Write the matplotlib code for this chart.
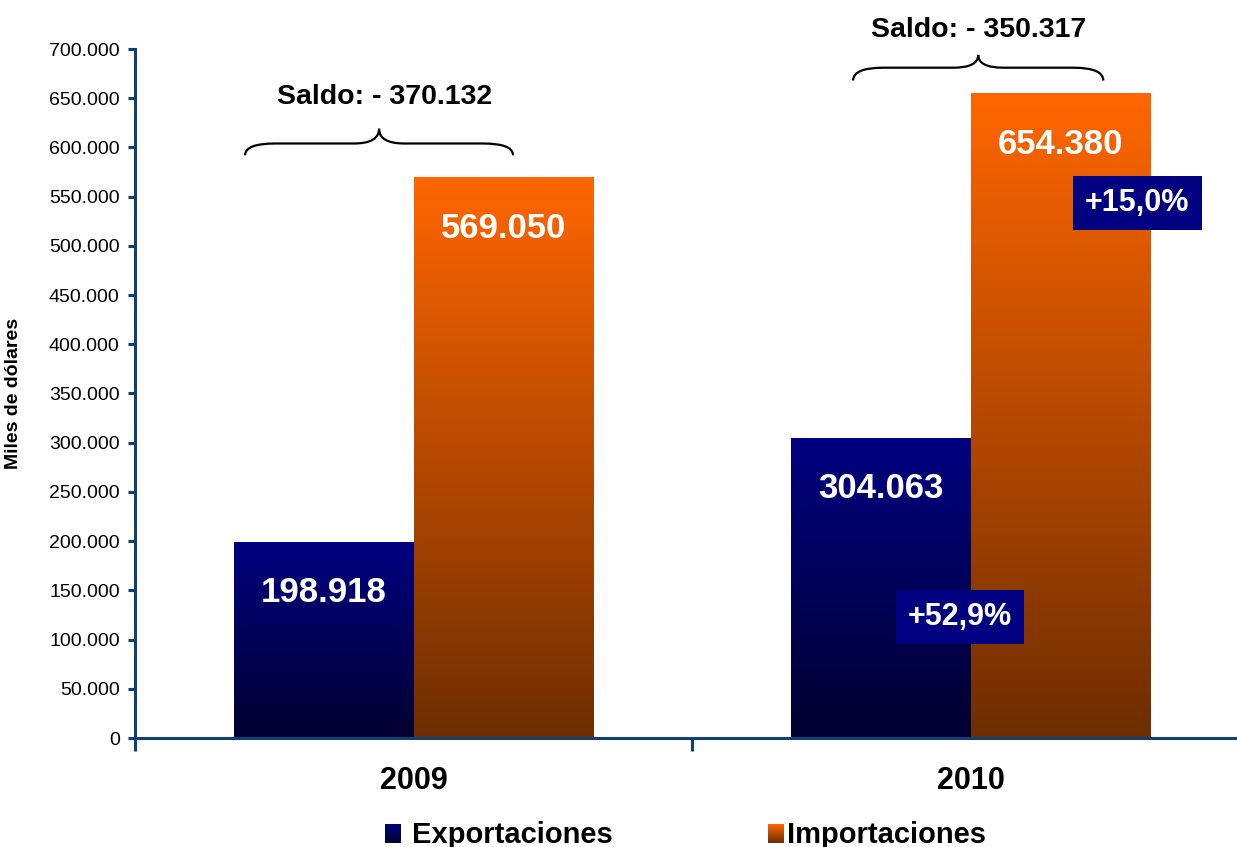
import numpy as np
import matplotlib
matplotlib.use('Agg')
import matplotlib.pyplot as plt
from matplotlib.colors import LinearSegmentedColormap
from matplotlib.path import Path
from matplotlib.patches import PathPatch
from matplotlib.ticker import FuncFormatter, FixedLocator

plt.rcParams['font.family'] = ['Liberation Sans', 'DejaVu Sans']

# data
years = ['2009', '2010']
exportaciones = [198918, 304063]
importaciones = [569050, 654380]
series_names = ['Exportaciones', 'Importaciones']


def fmt_miles(v):
    return '{:,.0f}'.format(v).replace(',', '.')


axis_col = '#10406f'
exp_cmap = LinearSegmentedColormap.from_list('exp', ['#000030', '#000080'])
imp_cmap = LinearSegmentedColormap.from_list('imp', ['#6e2d00', '#ff6600'])

fig = plt.figure(figsize=(12.37, 8.47), dpi=100)
ax = fig.add_axes([135 / 1237, 1 - 738 / 847, 1102 / 1237, 689 / 847])

w = 0.323
x = np.arange(len(years))
b_exp = ax.bar(x - w / 2, exportaciones, w, color='none', zorder=2)
b_imp = ax.bar(x + w / 2, importaciones, w, color='none', zorder=2)

grad = np.linspace(0, 1, 256).reshape(-1, 1)
for bars, cm in ((b_exp, exp_cmap), (b_imp, imp_cmap)):
    for r in bars:
        ax.imshow(grad, cmap=cm, origin='lower', aspect='auto', zorder=2,
                  extent=[r.get_x(), r.get_x() + r.get_width(), 0, r.get_height()])

ax.set_xlim(-0.5, 1.478)
ax.set_ylim(0, 700000)

# value labels
for bars in (b_exp, b_imp):
    for r in bars:
        ax.text(r.get_x() + r.get_width() / 2, r.get_height() - 51000, fmt_miles(r.get_height()),
                ha='center', va='center', color='white', fontsize=25, fontweight='bold', zorder=4)

# growth boxes
g_exp = (exportaciones[1] / exportaciones[0] - 1) * 100
g_imp = (importaciones[1] / importaciones[0] - 1) * 100
box = dict(boxstyle='square,pad=0.4', facecolor='#000080', edgecolor='none')
ax.text(0.981, 123000, '+{:.1f}%'.format(g_exp).replace('.', ','), ha='center', va='center',
        color='white', fontsize=22, fontweight='bold', bbox=box, zorder=5)
ax.text(1.299, 543500, '+{:.1f}%'.format(g_imp).replace('.', ','), ha='center', va='center',
        color='white', fontsize=22, fontweight='bold', bbox=box, zorder=5)


# braces with saldo
def brace(x0, x1, yb, ym, yt, dx=0.054, dt=0.045):
    xc = (x0 + x1) / 2
    verts = [(x0, yb), (x0, ym), (x0 + dx, ym), (xc - dt, ym), (xc, ym), (xc, yt),
             (xc, ym), (xc + dt, ym), (x1 - dx, ym), (x1, ym), (x1, yb)]
    codes = [Path.MOVETO, Path.CURVE3, Path.CURVE3, Path.LINETO, Path.CURVE3, Path.CURVE3,
             Path.CURVE3, Path.CURVE3, Path.LINETO, Path.CURVE3, Path.CURVE3]
    ax.add_patch(PathPatch(Path(verts, codes), fill=False, lw=1.6, color='black', clip_on=False))
    return xc


saldo = [e - i for e, i in zip(exportaciones, importaciones)]
xc0 = brace(-0.3025, 0.1786, 592000, 604000, 619000)
xc1 = brace(0.789, 1.238, 668000, 681000, 694000)
ax.text(xc0 + 0.01, 651000, 'Saldo: - ' + fmt_miles(-saldo[0]), ha='center', va='center',
        fontsize=20.5, fontweight='bold', clip_on=False)
ax.text(xc1, 719000, 'Saldo: - ' + fmt_miles(-saldo[1]), ha='center', va='center',
        fontsize=20.5, fontweight='bold', clip_on=False)

# axes styling
for s in ('top', 'right'):
    ax.spines[s].set_visible(False)
for s in ('left', 'bottom'):
    ax.spines[s].set_color(axis_col)
    ax.spines[s].set_linewidth(2.2)

ax.yaxis.set_major_locator(FixedLocator(np.arange(0, 700001, 50000)))
ax.yaxis.set_major_formatter(FuncFormatter(lambda v, p: fmt_miles(v)))
ax.tick_params(axis='y', direction='out', length=5, width=2.2, color=axis_col, labelsize=14, pad=6)
ax.set_xticks(x)
ax.set_xticklabels(years, fontsize=22, fontweight='bold')
ax.tick_params(axis='x', which='major', length=0, pad=20)
ax.set_xticks([-0.5, 0.5], minor=True)
ax.tick_params(axis='x', which='minor', direction='out', length=9, width=2.2, color=axis_col)
ax.set_ylabel('Miles de dólares', fontsize=14, fontweight='bold')
ax.yaxis.set_label_coords(-0.1025, 0.5)

# legend
leg_y = 1 - 835 / 847
for (lx, tx), name, cm in zip(((385, 412), (768, 787)), series_names, (exp_cmap, imp_cmap)):
    la = fig.add_axes([lx / 1237, 1 - 843 / 847, 16 / 1237, 19 / 847])
    la.imshow(grad, cmap=cm, origin='lower', aspect='auto')
    la.set_axis_off()
    fig.text(tx / 1237, leg_y, name, ha='left', va='center', fontsize=21, fontweight='bold')

fig.savefig('out.png', dpi=100)
